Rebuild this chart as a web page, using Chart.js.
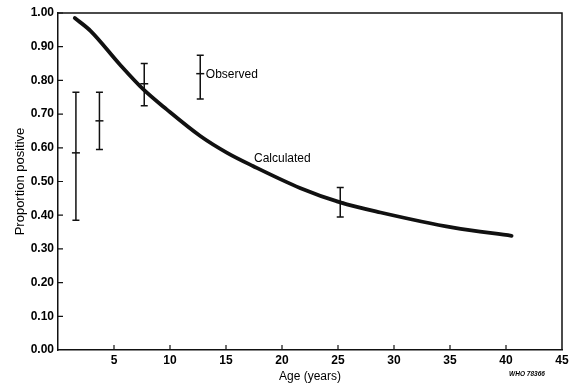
<!DOCTYPE html>
<html>
<head>
<meta charset="utf-8">
<script src="https://cdn.jsdelivr.net/npm/chart.js@4.4.1/dist/chart.umd.min.js"></script>
<style>
  html, body { margin: 0; padding: 0; background: #fff; }
  #wrap { width: 578px; height: 383px; }
</style>
</head>
<body>
<div id="wrap"><canvas id="c" width="578" height="383"></canvas></div>
<script>
// Calculated proportion positive by age
const calcAge  = [1.5, 2.9, 5.5, 7.6, 9.7, 12.7, 15.1, 17.4, 21.6, 25.2, 28.8, 35.3, 40.5];
const calcProp = [0.985, 0.947, 0.848, 0.774, 0.714, 0.635, 0.585, 0.546, 0.481, 0.438, 0.408, 0.363, 0.339];

// Observed proportions with their ranges
const obsAge  = [1.6, 3.7, 7.7, 12.7, 25.2];
const obsMid  = [0.585, 0.68, 0.79, 0.82, 0.438];
const obsLow  = [0.385, 0.595, 0.725, 0.745, 0.395];
const obsHigh = [0.765, 0.765, 0.85, 0.875, 0.482];

// Axis ticks
const xTicks = [5, 10, 15, 20, 25, 30, 35, 40, 45];
const yTicks = [0.0, 0.1, 0.2, 0.3, 0.4, 0.5, 0.6, 0.7, 0.8, 0.9, 1.0];

const INK = '#111';
const FONT = 'Liberation Sans, Arial, Helvetica, sans-serif';

const calcData = calcAge.map((a, i) => ({ x: a, y: calcProp[i] }));
const obsData = obsAge.map((a, i) => ({ x: a, y: obsMid[i] }));

// Whiskers, inward tick marks, frame and annotations
const extras = {
  id: 'extras',
  afterDatasetsDraw(chart) {
    const { ctx, chartArea: ca, scales: { x, y } } = chart;
    ctx.save();
    ctx.strokeStyle = INK;
    ctx.lineCap = 'butt';

    // error bars
    ctx.lineWidth = 1.5;
    obsAge.forEach((a, i) => {
      const px = x.getPixelForValue(a);
      const pLo = y.getPixelForValue(obsLow[i]);
      const pHi = y.getPixelForValue(obsHigh[i]);
      ctx.beginPath();
      ctx.moveTo(px, pLo); ctx.lineTo(px, pHi);
      ctx.moveTo(px - 3.5, pLo); ctx.lineTo(px + 3.5, pLo);
      ctx.moveTo(px - 3.5, pHi); ctx.lineTo(px + 3.5, pHi);
      ctx.stroke();
    });

    // frame top and right
    ctx.lineWidth = 1.5;
    ctx.beginPath();
    ctx.moveTo(ca.left, ca.top); ctx.lineTo(ca.right, ca.top); ctx.lineTo(ca.right, ca.bottom);
    ctx.stroke();

    // inward ticks
    ctx.lineWidth = 1.2;
    ctx.beginPath();
    xTicks.forEach(v => {
      if (v >= 45) return;
      const px = x.getPixelForValue(v);
      ctx.moveTo(px, ca.bottom); ctx.lineTo(px, ca.bottom - 5);
    });
    yTicks.forEach(v => {
      if (v <= 0) return;
      const py = y.getPixelForValue(v);
      ctx.moveTo(ca.left, py); ctx.lineTo(ca.left + 5, py);
    });
    ctx.stroke();

    // annotations
    ctx.fillStyle = '#000';
    ctx.font = '12px ' + FONT;
    ctx.textAlign = 'left';
    ctx.textBaseline = 'middle';
    ctx.fillText('Observed', x.getPixelForValue(13.2), y.getPixelForValue(0.817));
    ctx.fillText('Calculated', x.getPixelForValue(17.5), y.getPixelForValue(0.568));

    // figure reference
    ctx.font = 'italic bold 6.5px ' + FONT;
    ctx.textAlign = 'center';
    ctx.fillText('WHO 78366', 527, 374);
    ctx.restore();
  }
};

new Chart(document.getElementById('c'), {
  type: 'scatter',
  data: {
    datasets: [
      {
        label: 'Calculated',
        data: calcData,
        showLine: true,
        borderColor: INK,
        borderWidth: 3.8,
        pointRadius: 0,
        cubicInterpolationMode: 'monotone',
        borderCapStyle: 'round'
      },
      {
        label: 'Observed',
        data: obsData,
        showLine: false,
        pointStyle: 'line',
        pointRadius: 4,
        borderColor: INK,
        borderWidth: 1.5
      }
    ]
  },
  options: {
    responsive: false,
    animation: false,
    layout: { padding: { top: 13, right: 16, left: 0, bottom: 0 } },
    plugins: { legend: { display: false }, tooltip: { enabled: false } },
    scales: {
      x: {
        type: 'linear',
        min: 0, max: 45,
        afterFit(s) { s.height = 33; },
        afterBuildTicks(s) { s.ticks = xTicks.map(v => ({ value: v })); },
        ticks: {
          color: '#000',
          font: { family: FONT, size: 12, weight: 'bold' },
          padding: 3,
          maxRotation: 0
        },
        grid: { display: false, drawTicks: false },
        border: { display: true, color: INK, width: 1.5 },
        title: {
          display: true,
          text: 'Age (years)',
          color: '#000',
          font: { family: FONT, size: 12, lineHeight: 1 },
          padding: { top: 0, bottom: 0 }
        }
      },
      y: {
        type: 'linear',
        min: 0, max: 1,
        afterFit(s) { s.width = 58; },
        afterBuildTicks(s) { s.ticks = yTicks.map(v => ({ value: v })); },
        ticks: {
          color: '#000',
          font: { family: FONT, size: 12, weight: 'bold' },
          padding: 4,
          callback: v => Number(v).toFixed(2)
        },
        grid: { display: false, drawTicks: false },
        border: { display: true, color: INK, width: 1.5 },
        title: {
          display: true,
          text: 'Proportion positive',
          color: '#000',
          font: { family: FONT, size: 13, lineHeight: 1 },
          padding: { top: 13.5, bottom: 0 }
        }
      }
    }
  },
  plugins: [extras]
});
</script>
</body>
</html>
